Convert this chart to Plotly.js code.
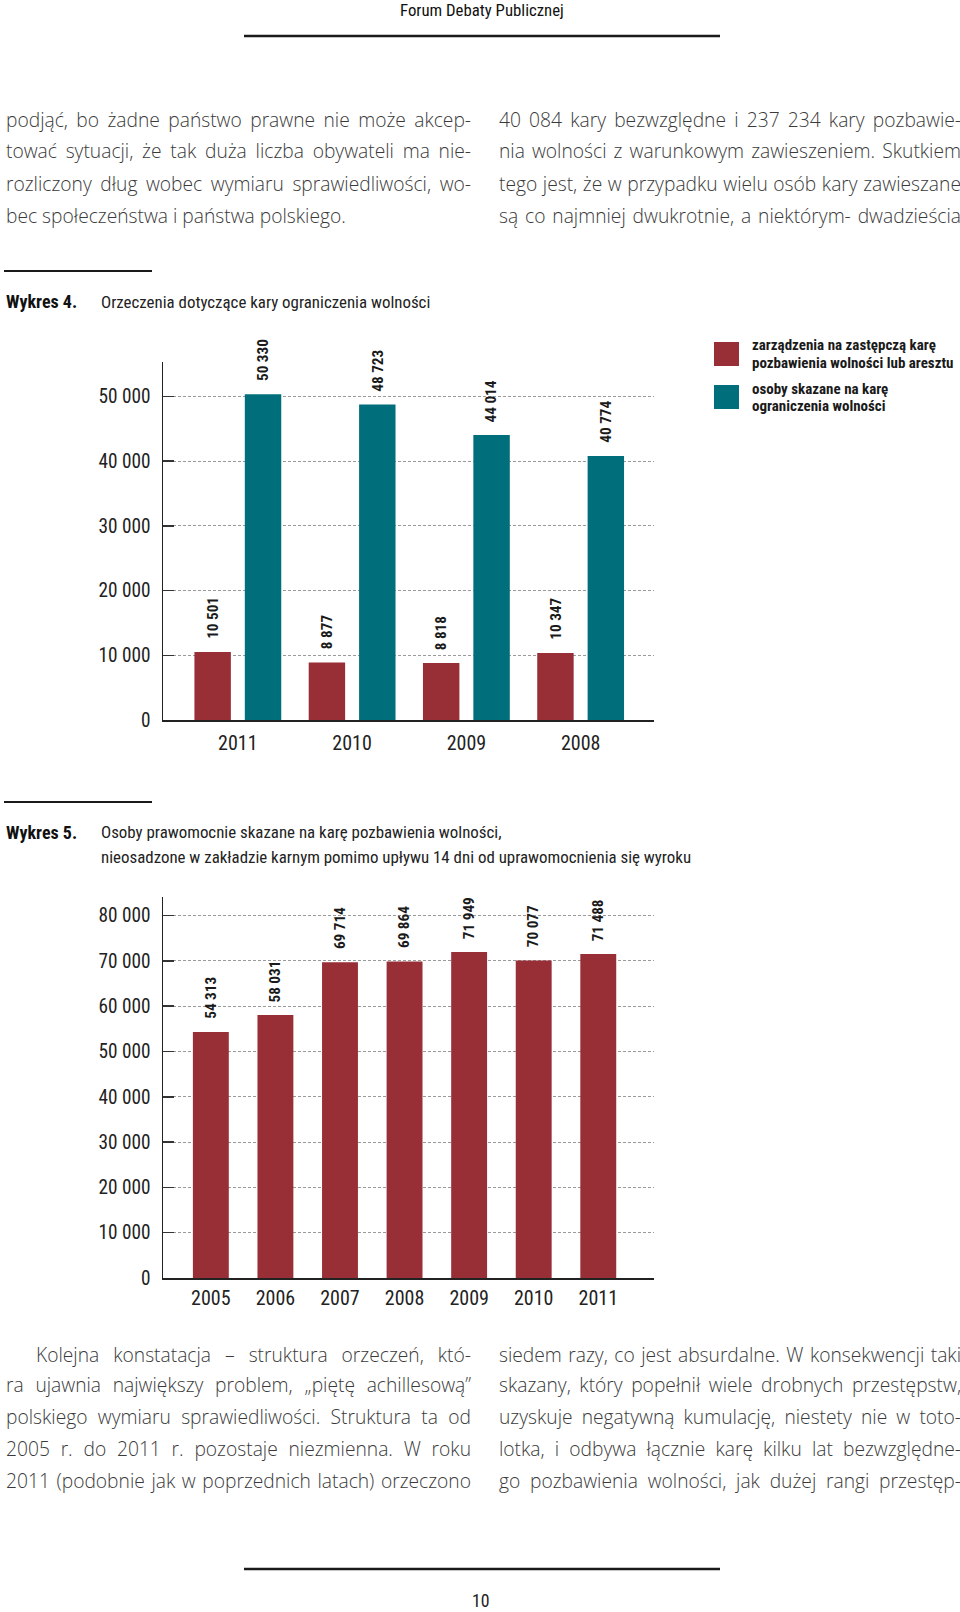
<!DOCTYPE html>
<html><head><meta charset="utf-8">
<script src="https://cdn.plot.ly/plotly-3.0.1.min.js"></script>
<style>html,body{margin:0;padding:0;background:#fff;}#page{width:960px;height:1612px;}</style>
</head><body><div id="page"></div>
<script>
// ---------- DATA ----------
const years4 = ['2011', '2010', '2009', '2008'];
const zarzadzenia = [10501, 8877, 8818, 10347];
const skazaneOgraniczenie = [50330, 48723, 44014, 40774];
const series4Names = ['zarządzenia na zastępczą karę<br>pozbawienia wolności lub aresztu',
                      'osoby skazane na karę<br>ograniczenia wolności'];
const yTicks4 = [0, 10000, 20000, 30000, 40000, 50000];

const years5 = ['2005', '2006', '2007', '2008', '2009', '2010', '2011'];
const nieosadzone = [54313, 58031, 69714, 69864, 71949, 70077, 71488];
const yTicks5 = [0, 10000, 20000, 30000, 40000, 50000, 60000, 70000, 80000];

const headerText = 'Forum Debaty Publicznej';
const pageNumber = '10';
const chart4Label = 'Wykres 4.';
const chart4Title = ['Orzeczenia dotyczące kary ograniczenia wolności'];
const chart5Label = 'Wykres 5.';
const chart5Title = ['Osoby prawomocnie skazane na karę pozbawienia wolności,',
                     'nieosadzone w zakładzie karnym pomimo upływu 14 dni od uprawomocnienia się wyroku'];
const topLeft = ['podjąć, bo żadne państwo prawne nie może akcep-',
                 'tować sytuacji, że tak duża liczba obywateli ma nie-',
                 'rozliczony dług wobec wymiaru sprawiedliwości, wo-',
                 'bec społeczeństwa i państwa polskiego.'];
const topRight = ['40 084 kary bezwzględne i 237 234 kary pozbawie-',
                  'nia wolności z warunkowym zawieszeniem. Skutkiem',
                  'tego jest, że w przypadku wielu osób kary zawieszane',
                  'są co najmniej dwukrotnie, a niektórym- dwadzieścia'];
const bottomLeft = ['Kolejna konstatacja – struktura orzeczeń, któ-',
                    'ra ujawnia największy problem, „piętę achillesową”',
                    'polskiego wymiaru sprawiedliwości. Struktura ta od',
                    '2005 r. do 2011 r. pozostaje niezmienna. W roku',
                    '2011 (podobnie jak w poprzednich latach) orzeczono'];
const bottomRight = ['siedem razy, co jest absurdalne. W konsekwencji taki',
                     'skazany, który popełnił wiele drobnych przestępstw,',
                     'uzyskuje negatywną kumulację, niestety nie w toto-',
                     'lotka, i odbywa łącznie karę kilku lat bezwzględne-',
                     'go pozbawienia wolności, jak dużej rangi przestęp-'];

// ---------- FONTS ----------
const cv = document.createElement('canvas').getContext('2d');
function measure(text, family, size, weight) {
  cv.font = (weight || 400) + ' ' + size + 'px ' + family;
  return cv.measureText(text).width;
}
function available(name) {
  const s = 'Wykres 50 000 abcdefghijklmnopqrstuvwxyz';
  return ['monospace', 'serif'].some(g => Math.abs(measure(s, '"' + name + '", ' + g, 40) - measure(s, g, 40)) > 0.5);
}
const narrowName = ['Liberation Sans Narrow', 'Arial Narrow', 'Roboto Condensed', 'DejaVu Sans Condensed', 'Roboto']
  .find(available) || 'Roboto';
const NARROW = '"' + narrowName + '", sans-serif';
const BODY = '"Open Sans", "Lato", sans-serif';
function fitIn(family, text, target, weight) {
  return 100 * target / measure(text, family, 100, weight);
}
const fit = (text, target, weight) => Math.round(10 * fitIn(NARROW, text, target, weight)) / 10;

// ---------- STYLE ----------
const W = 960, H = 1612;
const RED = '#982e36', TEAL = '#006f7b';
const INK = '#222222';
const px = x => x / W;
const py = y => 1 - y / H;
const fmt = v => String(v).replace(/\B(?=(\d{3})+(?!\d))/g, ' ');

const tickSize = Math.min(20, fit('50 000', 52, 400));
const yearSize = Math.min(20, fit('2008', 40, 400));
const valSize = Math.min(17, fit('50 330', 42, 700));
const titleSize = Math.min(18, fit(chart4Title[0], 329, 400));
const labSize = Math.min(18, fit(chart4Label, 71, 700));
const headSize = Math.min(17, fit(headerText, 164, 400));
const legSize = Math.min(15, fit('pozbawienia wolności lub aresztu', 207, 700));

// body paragraphs: column geometry and justification flags
const bodyBlocks = [
  {lines: topLeft, x0: 4, x1: 469, ys: [119, 151, 183, 215], indent: 0, lastFree: true},
  {lines: topRight, x0: 497, x1: 959, ys: [119, 151, 183, 215], indent: 0, lastFree: false},
  {lines: bottomLeft, x0: 4, x1: 469, ys: [1354, 1384, 1416, 1448, 1480], indent: 30, lastFree: false},
  {lines: bottomRight, x0: 497, x1: 959, ys: [1354, 1384, 1416, 1448, 1480], indent: 0, lastFree: false}
];
let bodySize = 20;
bodyBlocks.forEach(b => b.lines.forEach((t, i) => {
  const w = b.x1 - b.x0 - (i === 0 ? b.indent : 0);
  bodySize = Math.min(bodySize, fitIn(BODY, t, w * 0.99, 300));
}));

// ---------- TRACES ----------
const traces = [
  {type: 'bar', x: years4, y: zarzadzenia, name: series4Names[0], xaxis: 'x', yaxis: 'y',
   marker: {color: RED}},
  {type: 'bar', x: years4, y: skazaneOgraniczenie, name: series4Names[1], xaxis: 'x', yaxis: 'y',
   marker: {color: TEAL}},
  {type: 'bar', x: years5, y: nieosadzone, name: 'nieosadzeni', xaxis: 'x2', yaxis: 'y2',
   marker: {color: RED}, width: 0.556}
];

// ---------- ANNOTATIONS ----------
const ann = [];
const justify = [];  // [annotation index, target width]
function textLine(t, x, y, opts) {
  ann.push(Object.assign({xref: 'paper', yref: 'paper', x: px(x), y: py(y), text: t, showarrow: false,
    xanchor: 'left', yanchor: 'middle', align: 'left',
    font: {family: BODY, size: bodySize, color: '#3a3a3a', weight: 300}}, opts || {}));
  return ann.length - 1;
}
ann.push({xref: 'paper', yref: 'paper', x: px(482), y: py(10), text: headerText, showarrow: false,
  xanchor: 'center', yanchor: 'middle', font: {family: NARROW, size: headSize, color: '#111'}});
ann.push({xref: 'paper', yref: 'paper', x: px(481), y: py(1600), text: pageNumber, showarrow: false,
  xanchor: 'center', yanchor: 'middle', font: {family: NARROW, size: headSize + 1, color: INK}});

bodyBlocks.forEach(b => b.lines.forEach((t, i) => {
  const x = b.x0 + (i === 0 ? b.indent : 0);
  const idx = textLine(t, x, b.ys[i]);
  if (!(b.lastFree && i === b.lines.length - 1)) justify.push([idx, b.x1 - x]);
}));

// chart titles
const labFont = {family: NARROW, size: labSize, color: '#111', weight: 700};
const titFont = {family: NARROW, size: titleSize, color: INK};
textLine(chart4Label, 4, 302, {font: labFont});
chart4Title.forEach((t, i) => textLine(t, 99, 302 + i * 25, {font: titFont}));
textLine(chart5Label, 4, 832, {font: labFont});
chart5Title.forEach((t, i) => textLine(t, 99, 832 + i * 25, {font: titFont}));

// value labels above bars (category index positions on the category axes)
const valFont = {family: NARROW, size: valSize, color: '#1a1a1a', weight: 700};
function valueLabel(xr, yr, idx, v, dx) {
  ann.push({xref: xr, yref: yr, x: idx, y: v, text: fmt(v), showarrow: false, textangle: -90,
    xanchor: 'center', yanchor: 'bottom', xshift: dx, yshift: 11, font: valFont});
}
years4.forEach((c, i) => { valueLabel('x', 'y', i, zarzadzenia[i], -25); valueLabel('x', 'y', i, skazaneOgraniczenie[i], 25); });
years5.forEach((c, i) => valueLabel('x2', 'y2', i, nieosadzone[i], 0));

// legend (custom, large swatches)
const legColors = [RED, TEAL];
const legTop = [342, 385];
const legLineY = [[345.5, 363], [388.5, 406]];
const shapes = [];
series4Names.forEach((n, i) => {
  shapes.push({type: 'rect', xref: 'paper', yref: 'paper', x0: px(714), x1: px(739),
    y0: py(legTop[i]), y1: py(legTop[i] + 24), fillcolor: legColors[i], line: {width: 0}});
  n.split('<br>').forEach((part, k) => {
    ann.push({xref: 'paper', yref: 'paper', x: px(750), y: py(legLineY[i][k]), text: part, showarrow: false,
      xanchor: 'left', yanchor: 'middle', align: 'left',
      font: {family: NARROW, size: legSize, color: '#1a1a1a', weight: 700}});
  });
});

// rules
function rule(x0, x1, y, w) {
  shapes.push({type: 'line', xref: 'paper', yref: 'paper', x0: px(x0), x1: px(x1), y0: py(y), y1: py(y),
    line: {color: '#1a1a1a', width: w}});
}
rule(244, 720, 36, 2.5);
rule(4, 152, 271, 2);
rule(4, 152, 802, 2);
rule(244, 720, 1569, 2.5);

// ---------- AXES ----------
const tickFont = {family: NARROW, size: tickSize, color: INK};
const yearFont = {family: NARROW, size: yearSize, color: INK};
const yCommon = {showline: true, linecolor: INK, linewidth: 1.5, ticks: 'inside', ticklen: 11,
  tickcolor: '#333', tickwidth: 1.5, showgrid: true, gridcolor: '#9a9a9a', gridwidth: 1,
  griddash: '3px,2px', zeroline: false, tickfont: tickFont, tickformat: ',d',
  ticklabelstandoff: 7, fixedrange: true};
const xCommon = {type: 'category', showline: true, linecolor: INK, linewidth: 2, ticks: '',
  showgrid: false, zeroline: false, tickfont: yearFont, fixedrange: true};

const layout = {
  width: W, height: H, margin: {l: 0, r: 0, t: 0, b: 0},
  paper_bgcolor: '#ffffff', plot_bgcolor: 'rgba(0,0,0,0)',
  showlegend: false, separators: ', ', hovermode: false,
  barmode: 'group', bargap: 0.118, bargroupgap: 0.277,
  xaxis: Object.assign({}, xCommon, {domain: [px(163), px(654)], anchor: 'y', range: [-0.655, 3.642], ticklabelstandoff: 4}),
  yaxis: Object.assign({}, yCommon, {domain: [py(720), py(362)], anchor: 'x', range: [0, 55300], tickvals: yTicks4}),
  xaxis2: Object.assign({}, xCommon, {domain: [px(163), px(654)], anchor: 'y2', range: [-0.741, 6.863], ticklabelstandoff: 1}),
  yaxis2: Object.assign({}, yCommon, {domain: [py(1278), py(896.5)], anchor: 'x2', range: [0, 84200], tickvals: yTicks5}),
  annotations: ann,
  shapes: shapes
};

Plotly.newPlot('page', traces, layout, {displayModeBar: false, staticPlot: true}).then(gd => {
  // justify paragraph lines by widening the word spaces
  justify.forEach(([idx, target]) => {
    const el = gd.querySelector('.annotation[data-index="' + idx + '"] text.annotation-text');
    if (!el) return;
    const natural = el.getComputedTextLength();
    const spaces = (el.textContent.match(/ /g) || []).length;
    if (spaces > 0 && target > natural) el.style.wordSpacing = ((target - natural) / spaces).toFixed(2) + 'px';
  });
});
</script>
</body></html>
